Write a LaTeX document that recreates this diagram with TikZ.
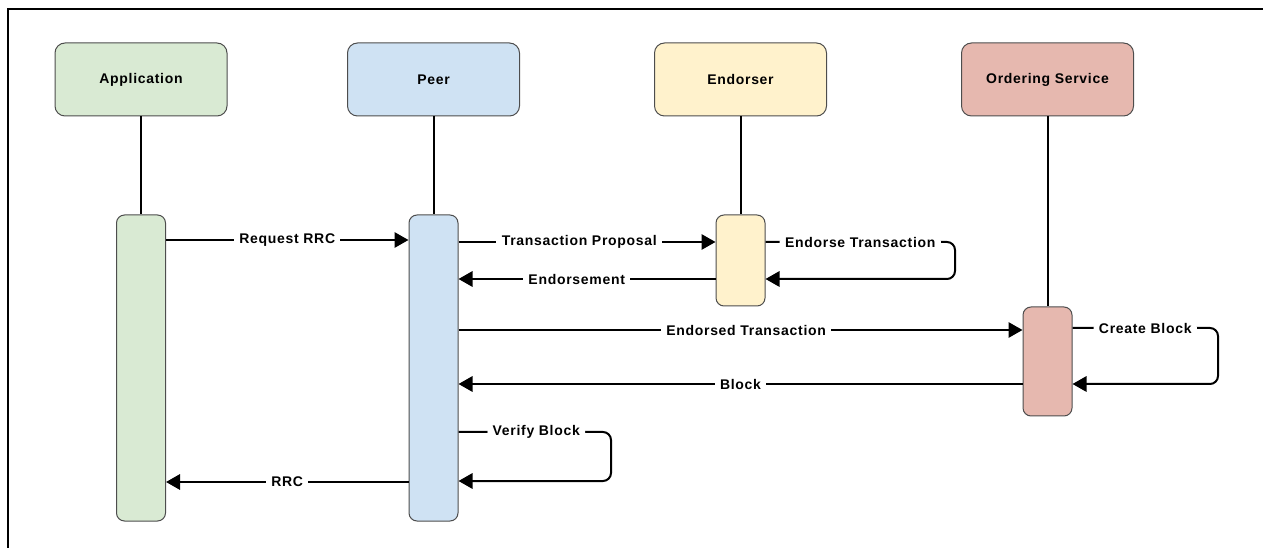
\documentclass[tikz,border=0pt]{standalone}
\usepackage{fontspec}
\setmainfont{Liberation Sans}[LetterSpace=5]
\usetikzlibrary{arrows.meta,calc}

\definecolor{appfill}{HTML}{D9EAD3}
\definecolor{peerfill}{HTML}{CFE2F3}
\definecolor{endfill}{HTML}{FFF2CC}
\definecolor{ordfill}{HTML}{E6B8AF}
\definecolor{edge}{HTML}{4D4D4D}

\begin{document}
\begin{tikzpicture}[x=0.75pt,y=-0.75pt,
  txt/.style={font=\bfseries\fontsize{10.5}{12}\selectfont},
  head/.style={draw=edge, fill=#1, line width=0.75pt, rounded corners=7.5pt,
    minimum width=129pt, minimum height=54.75pt, txt},
  bar/.style={draw=edge, fill=#1, line width=0.75pt, rounded corners=6pt,
    minimum width=36.75pt, inner sep=0pt},
  life/.style={line width=1.5pt, black},
  msg/.style={line width=1.5pt, black, -{Triangle[length=10.5pt,width=11.5pt]}},
  loopmsg/.style={msg, rounded corners=6pt},
  lbl/.style={fill=white, inner xsep=4pt, inner ysep=1pt, txt, text=black}
]
\useasboundingbox (0,0) rectangle (1263,548);

% frame edges
\draw[line width=1pt] (8,548) -- (8,9) -- (1263,9);

% participants
\node[head=appfill]  (app)  at (141,79.5)    {Application};
\node[head=peerfill] (peer) at (433.5,79.5)  {Peer};
\node[head=endfill]  (end)  at (740.5,79.5)  {Endorser};
\node[head=ordfill]  (ord)  at (1047.5,79.5) {Ordering Service};

% activation bars
\node[bar=appfill,  minimum height=229.5pt] (abar) at (141,368)      {};
\node[bar=peerfill, minimum height=229.5pt] (pbar) at (433.5,368)    {};
\node[bar=endfill,  minimum height=68.25pt] (ebar) at (740.5,260.5)  {};
\node[bar=ordfill,  minimum height=81.75pt] (obar) at (1047.5,361.5) {};

% lifelines
\draw[life] (app)  -- (abar);
\draw[life] (peer) -- (pbar);
\draw[life] (end)  -- (ebar);
\draw[life] (ord)  -- (obar);

% message levels
\coordinate (y1) at (0,240);
\coordinate (y2) at (0,242);
\coordinate (y3) at (0,279);
\coordinate (y4) at (0,330);
\coordinate (y5) at (0,328);
\coordinate (y6) at (0,384);
\coordinate (y7) at (0,432);
\coordinate (y8) at (0,481);
\coordinate (y9) at (0,482);

% messages
\draw[msg] (abar.east |- y1) -- node[lbl]{Request RRC} (pbar.west |- y1);
\draw[msg] (pbar.east |- y2) -- node[lbl, pos=0.47]{Transaction Proposal} (ebar.west |- y2);
\draw[loopmsg] (ebar.east |- y2) -- node[lbl]{Endorse Transaction} (955,242)
  -- (955,279) -- (ebar.east |- y3);
\draw[msg] (ebar.west |- y3) -- node[lbl, pos=0.54]{Endorsement} (pbar.east |- y3);
\draw[msg] (pbar.east |- y4) -- node[lbl, pos=0.51]{Endorsed Transaction} (obar.west |- y4);
\draw[loopmsg] (obar.east |- y5) -- node[lbl]{Create Block} (1218,328)
  -- (1218,384) -- (obar.east |- y6);
\draw[msg] (obar.west |- y6) -- node[lbl]{Block} (pbar.east |- y6);
\draw[loopmsg] (pbar.east |- y7) -- node[lbl, pos=0.51]{Verify Block} (611,432)
  -- (611,481) -- (pbar.east |- y8);
\draw[msg] (pbar.west |- y9) -- node[lbl]{RRC} (abar.east |- y9);
\end{tikzpicture}
\end{document}
